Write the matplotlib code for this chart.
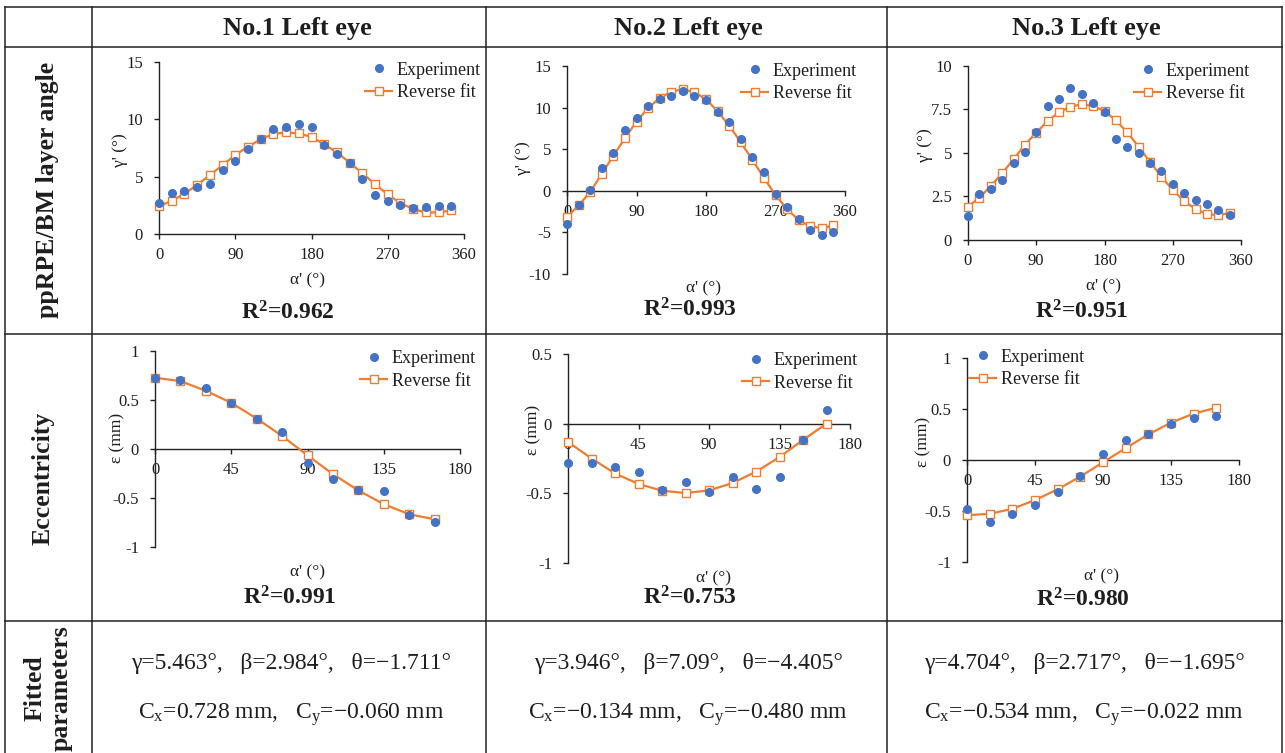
import matplotlib
matplotlib.use('Agg')
import matplotlib.pyplot as plt

plt.rcParams['font.family'] = 'Liberation Serif'
plt.rcParams['mathtext.fontset'] = 'custom'
plt.rcParams['mathtext.rm'] = 'Liberation Serif'
plt.rcParams['mathtext.it'] = 'Liberation Serif:italic'
plt.rcParams['mathtext.bf'] = 'Liberation Serif:bold'
plt.rcParams['axes.unicode_minus'] = False

# ---------------- data ----------------
col_titles = ["No.1 Left eye", "No.2 Left eye", "No.3 Left eye"]
row_titles = ["ppRPE/BM layer angle", "Eccentricity", "Fitted\nparameters"]

alpha_full = [0, 15, 30, 45, 60, 75, 90, 105, 120, 135, 150, 165,
              180, 195, 210, 225, 240, 255, 270, 285, 300, 315, 330, 345]
alpha_half = [0, 15, 30, 45, 60, 75, 90, 105, 120, 135, 150, 165]

eye1_angle_exp = [2.69, 3.56, 3.74, 4.08, 4.34, 5.62, 6.34, 7.41, 8.28, 9.18, 9.33, 9.61,
                  9.35, 7.76, 6.95, 6.23, 4.78, 3.39, 2.87, 2.52, 2.26, 2.35, 2.46, 2.46]
eye1_angle_fit = [2.40, 2.92, 3.50, 4.29, 5.13, 6.00, 6.89, 7.62, 8.25, 8.72, 8.86, 8.77,
                  8.46, 7.82, 7.12, 6.23, 5.30, 4.34, 3.45, 2.69, 2.17, 1.88, 1.88, 2.06]
eye2_angle_exp = [-3.96, -1.76, 0.12, 2.80, 4.56, 7.28, 8.80, 10.24, 11.00, 11.40, 11.96, 11.40,
                  10.88, 9.44, 8.32, 6.28, 4.12, 2.20, -0.40, -2.00, -3.36, -4.72, -5.36, -4.96]
eye2_angle_fit = [-3.16, -1.76, -0.16, 2.04, 4.20, 6.32, 8.32, 9.96, 11.16, 11.92, 12.20, 11.84,
                  11.00, 9.56, 7.84, 5.84, 3.72, 1.56, -0.52, -2.20, -3.52, -4.28, -4.48, -4.16]
eye3_angle_exp = [1.40, 2.66, 2.95, 3.45, 4.41, 5.08, 6.21, 7.68, 8.08, 8.72, 8.41, 7.85,
                  7.34, 5.79, 5.36, 5.00, 4.44, 3.95, 3.24, 2.72, 2.32, 2.05, 1.70, 1.46]
eye3_angle_fit = [1.92, 2.43, 3.10, 3.83, 4.64, 5.46, 6.17, 6.84, 7.34, 7.66, 7.80, 7.70,
                  7.41, 6.88, 6.19, 5.36, 4.50, 3.64, 2.87, 2.24, 1.78, 1.49, 1.42, 1.55]

eye1_ecc_exp = [0.727, 0.706, 0.625, 0.471, 0.304, 0.171, -0.140, -0.307, -0.423, -0.433, -0.672, -0.747]
eye1_ecc_fit = [0.727, 0.693, 0.594, 0.471, 0.311, 0.133, -0.065, -0.256, -0.423, -0.563, -0.666, -0.717]
eye2_ecc_exp = [-0.279, -0.283, -0.314, -0.348, -0.479, -0.421, -0.488, -0.383, -0.469, -0.386, -0.119, 0.100]
eye2_ecc_fit = [-0.131, -0.250, -0.357, -0.433, -0.481, -0.498, -0.479, -0.426, -0.345, -0.240, -0.117, 0.000]
eye3_ecc_exp = [-0.478, -0.607, -0.528, -0.446, -0.310, -0.158, 0.056, 0.195, 0.254, 0.350, 0.409, 0.436]
eye3_ecc_fit = [-0.541, -0.528, -0.479, -0.393, -0.287, -0.162, -0.023, 0.116, 0.251, 0.366, 0.455, 0.512]

r2_angle = ["0.962", "0.993", "0.951"]
r2_ecc = ["0.991", "0.753", "0.980"]

param_line1 = ["γ=5.463°,   β=2.984°,   θ=−1.711°",
               "γ=3.946°,   β=7.09°,   θ=−4.405°",
               "γ=4.704°,   β=2.717°,   θ=−1.695°"]
param_line2 = [r"C$_\mathrm{x}$=0.728 mm,   C$_\mathrm{y}$=−0.060 mm",
               r"C$_\mathrm{x}$=−0.134 mm,   C$_\mathrm{y}$=−0.480 mm",
               r"C$_\mathrm{x}$=−0.534 mm,   C$_\mathrm{y}$=−0.022 mm"]

xticks_full = [0, 90, 180, 270, 360]
xticks_half = [0, 45, 90, 135, 180]
yticks_angle = [[0, 5, 10, 15], [-10, -5, 0, 5, 10, 15], [0, 2.5, 5, 7.5, 10]]
yticklabels_angle = [["0", "5", "10", "15"], ["-10", "-5", "0", "5", "10", "15"],
                     ["0", "2.5", "5", "7.5", "10"]]
yticks_ecc = [[-1, -0.5, 0, 0.5, 1], [-1, -0.5, 0, 0.5], [-1, -0.5, 0, 0.5, 1]]
yticklabels_ecc = [["-1", "-0.5", "0", "0.5", "1"], ["-1", "-0.5", "0", "0.5"],
                   ["-1", "-0.5", "0", "0.5", "1"]]

# ---------------- figure ----------------
W, H = 1285, 753
fig = plt.figure(figsize=(12.85, 7.53), dpi=100)


def fx(px):
    return px / W


def fy(py):
    return 1 - py / H


BLUE = '#4472C4'
ORANGE = '#ED7D31'
INK = '#1e1e1e'

# table grid
vlines = [5, 92, 486, 887, 1282]
hlines = [7, 47, 334, 621]
for x in vlines:
    fig.add_artist(plt.Line2D([fx(x), fx(x)], [fy(7), fy(753)], color='#222222', lw=1.1,
                              transform=fig.transFigure))
for y in hlines:
    fig.add_artist(plt.Line2D([fx(5), fx(1282)], [fy(y), fy(y)], color='#222222', lw=1.1,
                              transform=fig.transFigure))

col_centers = [297, 688, 1086]
for c, t in zip(col_centers, col_titles):
    fig.text(fx(c), fy(28), t, ha='center', va='center', fontsize=19, fontweight='bold',
             color=INK)

row_centers = [(48, 190), (43, 478), (48, 688)]
for (x, y), t in zip(row_centers, row_titles):
    fig.text(fx(x), fy(y), t, ha='center', va='center', rotation=90, fontsize=18.5,
             fontweight='bold', multialignment='center', linespacing=1.2, color=INK)

panels = [
    dict(x=alpha_full, exp=eye1_angle_exp, fit=eye1_angle_fit, px=(159, 464, 62, 234),
         xlim=(0, 360), ylim=(0, 15), xt=xticks_full, yt=yticks_angle[0], ytl=yticklabels_angle[0],
         ylab="γ' (°)", ylabpos=(120, 150), xlabpos=(308, 280), r2=r2_angle[0], r2pos=(288, 313),
         leg=(365, 81.5)),
    dict(x=alpha_full, exp=eye2_angle_exp, fit=eye2_angle_fit, px=(567, 845, 66, 274),
         xlim=(0, 360), ylim=(-10, 15), xt=xticks_full, yt=yticks_angle[1], ytl=yticklabels_angle[1],
         ylab="γ' (°)", ylabpos=(523, 158), xlabpos=(703, 288), r2=r2_angle[1], r2pos=(690, 310),
         leg=(741, 82.5)),
    dict(x=alpha_full, exp=eye3_angle_exp, fit=eye3_angle_fit, px=(968, 1241, 66, 240),
         xlim=(0, 360), ylim=(0, 10), xt=xticks_full, yt=yticks_angle[2], ytl=yticklabels_angle[2],
         ylab="γ' (°)", ylabpos=(925, 145), xlabpos=(1103, 286), r2=r2_angle[2], r2pos=(1082, 312),
         leg=(1134, 82.5)),
    dict(x=alpha_half, exp=eye1_ecc_exp, fit=eye1_ecc_fit, px=(155, 460, 351, 547),
         xlim=(0, 180), ylim=(-1, 1), xt=xticks_half, yt=yticks_ecc[0], ytl=yticklabels_ecc[0],
         ylab="ε (mm)", ylabpos=(117, 438), xlabpos=(307, 572), r2=r2_ecc[0], r2pos=(290, 598),
         leg=(360, 370)),
    dict(x=alpha_half, exp=eye2_ecc_exp, fit=eye2_ecc_fit, px=(568, 850, 354, 563),
         xlim=(0, 180), ylim=(-1, 0.5), xt=xticks_half, yt=yticks_ecc[1], ytl=yticklabels_ecc[1],
         ylab="ε (mm)", ylabpos=(533, 430), xlabpos=(713, 578), r2=r2_ecc[1], r2pos=(690, 598),
         leg=(742, 372)),
    dict(x=alpha_half, exp=eye3_ecc_exp, fit=eye3_ecc_fit, px=(967, 1239, 358, 562),
         xlim=(0, 180), ylim=(-1, 1), xt=xticks_half, yt=yticks_ecc[2], ytl=yticklabels_ecc[2],
         ylab="ε (mm)", ylabpos=(923, 442), xlabpos=(1102, 576), r2=r2_ecc[2], r2pos=(1083, 600),
         leg=(969, 368.5)),
]

for p in panels:
    x0, x1, yt, yb = p['px']
    ax = fig.add_axes([fx(x0), fy(yb), (x1 - x0) / W, (yb - yt) / H])
    ax.set_xlim(*p['xlim'])
    ax.set_ylim(*p['ylim'])
    ax.patch.set_alpha(0)
    for s in ['top', 'right']:
        ax.spines[s].set_visible(False)
    ax.spines['bottom'].set_position(('data', 0))
    for s in ['left', 'bottom']:
        ax.spines[s].set_color('#222222')
        ax.spines[s].set_linewidth(1.0)
    ax.set_xticks(p['xt'])
    ax.set_xticklabels([str(v) for v in p['xt']])
    ax.set_yticks(p['yt'])
    ax.set_yticklabels(p['ytl'])
    ax.tick_params(axis='x', direction='out', length=3.5, width=1, pad=6, labelsize=12,
                   color='#222222', labelcolor=INK)
    ax.tick_params(axis='y', direction='out', length=3.5, width=1, pad=8, labelsize=12,
                   color='#222222', labelcolor=INK)

    fit_line, = ax.plot(p['x'], p['fit'], color=ORANGE, lw=1.6, marker='s', ms=5.5,
                        mfc='white', mec=ORANGE, mew=1.0, clip_on=False, zorder=3,
                        label='Reverse fit')
    exp_pts, = ax.plot(p['x'], p['exp'], ls='none', marker='o', ms=5.5, color=BLUE,
                       clip_on=False, zorder=4, label='Experiment')

    ax.set_ylabel(p['ylab'], fontsize=12.5, va='center', color=INK)
    ax.yaxis.set_label_coords(fx(p['ylabpos'][0]), fy(p['ylabpos'][1]), transform=fig.transFigure)
    ax.set_xlabel("α' (°)", fontsize=12.5, va='center', color=INK)
    ax.xaxis.set_label_coords(fx(p['xlabpos'][0]), fy(p['xlabpos'][1]), transform=fig.transFigure)

    ax.legend([exp_pts, fit_line], ['Experiment', 'Reverse fit'], loc='center left',
              bbox_to_anchor=(fx(p['leg'][0]), fy(p['leg'][1])), bbox_transform=fig.transFigure,
              frameon=False, borderpad=0, borderaxespad=0, handlelength=1.5,
              handletextpad=0.25, labelspacing=0.3, fontsize=13, numpoints=1,
              labelcolor=INK)

    fig.text(fx(p['r2pos'][0]), fy(p['r2pos'][1]), r"R$^\mathbf{2}$=%s" % p['r2'],
             ha='center', va='center', fontsize=17, fontweight='bold', color=INK)

param_y = [663, 715]
param_x = [291, 688, 1084]
for i in range(3):
    fig.text(fx(param_x[i]), fy(param_y[0]), param_line1[i], ha='center', va='center',
             fontsize=17, color=INK)
    fig.text(fx(param_x[i]), fy(param_y[1]), param_line2[i], ha='center', va='center',
             fontsize=17, color=INK)

fig.savefig('out.png', dpi=100)
